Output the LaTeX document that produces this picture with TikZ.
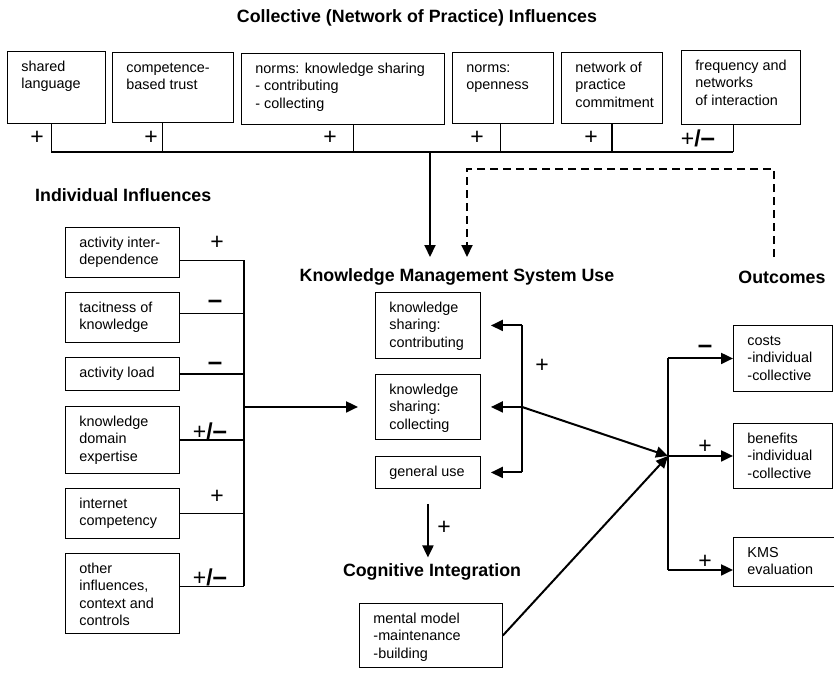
\documentclass[tikz,border=0pt]{standalone}
\usepackage{fontspec}
\setmainfont{Liberation Sans}
\usetikzlibrary{arrows.meta, positioning}
% box text: width, height, lines (top left, no wrapping)
\newcommand{\boxtxt}[3]{\parbox[t][\dimexpr#2pt-16pt\relax][t]{\dimexpr#1pt-28pt\relax}{\begin{tabular}[t]{@{}l@{}}#3\end{tabular}}}
\newcommand{\mns}{{\fontsize{26}{26}\selectfont\bfseries –}}

\begin{document}
\begin{tikzpicture}[x=1pt, y=-1pt,
    font=\fontsize{14.4}{17.3}\selectfont,
    box/.style={draw, line width=0.9pt, anchor=north west, inner xsep=14pt, inner ysep=8pt},
    hdr/.style={font=\fontsize{17.8}{20}\selectfont\bfseries, inner sep=2pt},
    sgn/.style={font=\fontsize{23}{23}\selectfont, inner sep=0pt},
    bus/.style={line width=1.1pt},
    arr/.style={-{Triangle[length=12pt,width=11pt]}, line width=2pt},
    dsh/.style={arr, dash pattern=on 8pt off 5pt}
  ]
  \useasboundingbox (0,0) rectangle (834,672);

  % Headers
  \node[hdr] (title) at (417,18) {Collective (Network of Practice) Influences};
  \node[hdr, anchor=west] (indhdr) at (33,195) {Individual Influences};
  \node[hdr] (kmshdr) at (457,277) {Knowledge Management System Use};
  \node[hdr] (outhdr) at (782,277) {Outcomes};
  \node[hdr] (coghdr) at (432,572) {Cognitive Integration};

  % Collective influences
  \node[box] (shared)    at (7,51)   {\boxtxt{98}{72}{shared\\language}};
  \node[box] (trust)     at (112,52) {\boxtxt{121}{70}{competence-\\based trust}};
  \node[box] (normshare) at (241,53) {\boxtxt{203}{71}{norms: knowledge sharing\\- contributing\\- collecting}};
  \node[box] (openness)  at (452,52) {\boxtxt{101}{71}{norms:\\openness}};
  \node[box] (commit)    at (561,52) {\boxtxt{101}{71}{network of\\practice\\commitment}};
  \node[box] (freq)      at (681,50) {\boxtxt{119}{74}{frequency and\\networks\\of interaction}};

  % Individual influences
  \node[box] (interdep) at (65,227) {\boxtxt{114}{50}{activity inter-\\dependence}};
  \node[box] (tacit)    at (65,292) {\boxtxt{114}{50}{tacitness of\\knowledge}};
  \node[box] (load)     at (65,357) {\boxtxt{114}{33}{activity load}};
  \node[box] (domain)   at (65,406) {\boxtxt{114}{67}{knowledge\\domain\\expertise}};
  \node[box] (internet) at (65,488) {\boxtxt{114}{50}{internet\\competency}};
  \node[box] (other)    at (65,553) {\boxtxt{114}{80}{other\\influences,\\context and\\controls}};

  % KMS use
  \node[box] (contrib) at (375,292) {\boxtxt{105}{66}{knowledge\\sharing:\\contributing}};
  \node[box] (collect) at (375,374) {\boxtxt{105}{65}{knowledge\\sharing:\\collecting}};
  \node[box] (general) at (375,456) {\boxtxt{105}{32}{general use}};

  % Cognitive integration
  \node[box] (mental) at (359,603) {\boxtxt{143}{64}{mental model\\-maintenance\\-building}};

  % Outcomes
  \node[box] (costs)   at (733,325) {\boxtxt{99}{66}{costs\\-individual\\-collective}};
  \node[box] (benefit) at (733,423) {\boxtxt{99}{65}{benefits\\-individual\\-collective}};
  \node[box] (eval)    at (733,537) {\boxtxt{101}{49}{KMS\\evaluation}};

  % Signs
  \foreach \sx/\sy/\sg [count=\i] in {37/138/+, 151/138/+, 330/138/+, 477/138/+,
      591/138/+, 698/138/{+\textbf{/}\mns}}
    \node[sgn] (ts\i) at (\sx,\sy) {\sg};
  \foreach \sx/\sy/\sg [count=\i] in {217/243/+, 215/304/\mns, 215/366/\mns,
      210/431/{+\textbf{/}\mns}, 217/497/+, 210/577/{+\textbf{/}\mns}}
    \node[sgn] (ls\i) at (\sx,\sy) {\sg};
  \foreach \sx/\sy/\sg [count=\i] in {542/366/+, 444/528/+, 705/349/\mns,
      705/447/+, 705/562/+}
    \node[sgn] (rs\i) at (\sx,\sy) {\sg};

  % Collective bus
  \coordinate (busL) at (51,152);
  \coordinate (busR) at (733,152);
  \foreach \n/\dx in {shared/-5, trust/-10.5, normshare/10.5, openness/-2.5,
      commit/0, freq/-7.5}
    \draw[bus] ([xshift=\dx pt]\n.south) coordinate (t) -- (t |- busL);
  \draw[bus] (busL) -- (busR);
  \coordinate (kmsin) at (430,257);
  \draw[arr] (kmsin |- busL) -- (kmsin);

  % Feedback from outcomes
  \coordinate (fbout) at (774,257);
  \coordinate (fbtop) at (467,169);
  \coordinate (fbin) at (467,257);
  \draw[dsh] (fbout) |- (fbtop) -- (fbin);

  % Individual bus
  \coordinate (ibus) at (244,0);
  \draw[bus] ([yshift=-8pt]interdep.east) coordinate (ib1) -- (ib1 -| ibus);
  \draw[bus] ([yshift=4pt]tacit.east) coordinate (ib2) -- (ib2 -| ibus);
  \draw[bus] (load.east) -- (load.east -| ibus);
  \draw[bus] (domain.east) -- (domain.east -| ibus);
  \draw[bus] (internet.east) -- (internet.east -| ibus);
  \draw[bus] ([yshift=7pt]other.east) coordinate (ib6) -- (ib6 -| ibus);
  \draw[bus] (ib1 -| ibus) -- (ib6 -| ibus);
  \draw[arr] (ibus |- collect.west) -- ([xshift=-17pt]collect.west);

  % KMS use feedback
  \coordinate (fb) at (522,0);
  \draw[bus] (fb |- contrib.east) -- (fb |- general.east);
  \draw[arr] (fb |- contrib.east) -- ([xshift=10pt]contrib.east);
  \draw[arr] (fb |- collect.east) -- ([xshift=10pt]collect.east);
  \draw[arr] (fb |- general.east) -- ([xshift=10pt]general.east);
  \draw[arr] ([yshift=-15pt]general.south) -- ([yshift=4pt]general.south |- coghdr.north);

  % Outcomes bus
  \coordinate (junc) at (668,0 |- benefit.west);
  \draw[arr] (fb |- collect.east) -- (junc);
  \draw[arr] (mental.east) -- (junc);
  \draw[bus] (junc |- costs.west) -- ([yshift=-8pt]junc |- eval.west);
  \draw[arr] (junc |- costs.west) -- (costs.west);
  \draw[arr] (junc) -- (benefit.west);
  \draw[arr] ([yshift=-8pt]junc |- eval.west) -- ([yshift=-8pt]eval.west);
\end{tikzpicture}
\end{document}
